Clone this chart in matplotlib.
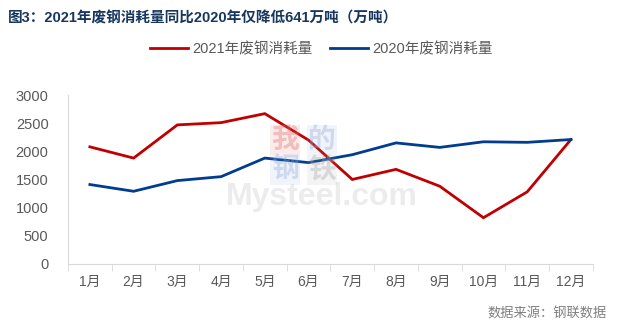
import matplotlib
matplotlib.use("Agg")
import matplotlib.pyplot as plt
import numpy as np

plt.rcParams['font.family'] = ['Liberation Sans', 'Noto Sans CJK SC', 'DejaVu Sans']

months = ['1月', '2月', '3月', '4月', '5月', '6月', '7月', '8月', '9月', '10月', '11月', '12月']
y2021 = [2080, 1880, 2470, 2510, 2670, 2200, 1500, 1680, 1380, 820, 1280, 2210]
y2020 = [1410, 1290, 1480, 1550, 1880, 1800, 1940, 2150, 2070, 2170, 2160, 2210]
label2021 = '2021年废钢消耗量'
label2020 = '2020年废钢消耗量'
title = '图3：2021年废钢消耗量同比2020年仅降低641万吨（万吨）'
source = '数据来源：钢联数据'

fig = plt.figure(figsize=(6.24, 3.29), dpi=100)
ax = fig.add_axes([0.109, 0.198, 0.841, 0.513])

# watermark (behind data)
wm = [('我', 285, 140, '#E06666'), ('的', 322, 140, '#8EA9DB'),
      ('钢', 285, 170, '#8EA9DB'), ('铁', 322, 170, '#A6A6A6')]
for ch, px, py, c in wm:
    fig.text(px / 624, 1 - py / 329, ch, ha='center', va='center', fontsize=20,
             color=c, alpha=0.35, family=['Noto Sans CJK SC'], fontweight='bold',
             bbox=dict(boxstyle='square,pad=0.05', fc=c, ec='none', alpha=0.12), zorder=0)
fig.text(322 / 624, 1 - 197 / 329, 'Mysteel.com', ha='center', va='center', fontsize=23,
         color='#7F7F7F', alpha=0.14, fontweight='bold', zorder=0)
ax.set_facecolor('none')

x = np.arange(len(months))
ax.plot(x, y2021, color='#C00000', lw=2.0, label=label2021, solid_joinstyle='miter')
ax.plot(x, y2020, color='#003C8F', lw=2.0, label=label2020, solid_joinstyle='miter')

ax.set_xlim(-0.5, len(months) - 0.5)
ax.set_ylim(0, 3000)
ax.set_yticks(np.arange(0, 3001, 500))
ax.set_xticks(x)
ax.set_xticklabels(months)
ax.set_xticks(np.arange(-0.5, len(months), 1), minor=True)
ax.tick_params(axis='x', which='major', length=0, pad=8, labelsize=10, labelcolor='#595959')
ax.tick_params(axis='x', which='minor', length=5, color='#D9D9D9', direction='out')
ax.tick_params(axis='y', length=0, pad=14, labelsize=10.5, labelcolor='#595959')

for s in ['top', 'right']:
    ax.spines[s].set_visible(False)
ax.spines['left'].set_color('#D9D9D9')
ax.spines['bottom'].set_color('#D9D9D9')

fig.text(0.013, 0.945, title, ha='left', va='center', fontsize=10.5, fontweight='bold',
         color='#17375E')

leg = fig.legend(loc='center', bbox_to_anchor=(0.515, 0.85), ncol=2, frameon=False,
                 fontsize=10.5, handlelength=2.6, columnspacing=1.2, handletextpad=0.3)
for t in leg.get_texts():
    t.set_color('#595959')

fig.text(0.972, 0.045, source, ha='right', va='center', fontsize=9.5, color='#7F7F7F')

fig.savefig('out.png', dpi=100)
